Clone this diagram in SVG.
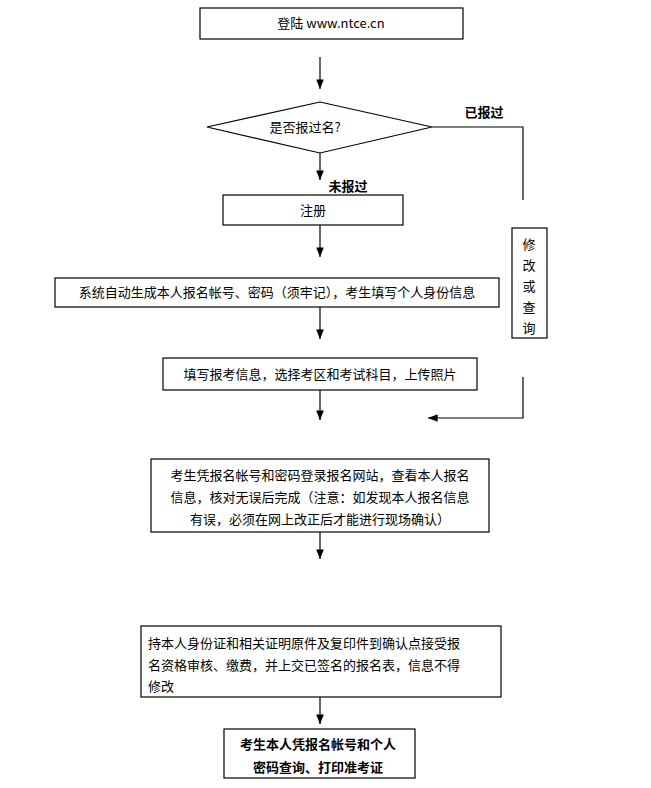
<svg xmlns="http://www.w3.org/2000/svg" width="651" height="788" viewBox="0 0 651 788">
<style>
.b{fill:#fff;stroke:#000;stroke-width:1.2}
.t{font-family:"Noto Sans CJK SC","Liberation Sans",sans-serif;font-size:13px;fill:#000}
.bd{font-weight:bold}
.c{stroke:#000;stroke-width:1.2;fill:none}
</style>
<defs><marker id="a" viewBox="0 0 10 10" refX="10" refY="5" markerWidth="8" markerHeight="8" orient="auto"><path d="M0,1L10,5L0,9z" fill="#000"/></marker></defs>
<rect width="651" height="788" fill="#fff"/>
<g id="connectors">
<path class="c" d="M320,57V89" marker-end="url(#a)"/>
<path class="c" d="M320,153V180" marker-end="url(#a)"/>
<path class="c" d="M432,127H523V200"/>
<path class="c" d="M320,225V257" marker-end="url(#a)"/>
<path class="c" d="M320,307V339" marker-end="url(#a)"/>
<path class="c" d="M320,390V420" marker-end="url(#a)"/>
<path class="c" d="M523,377V418H428" marker-end="url(#a)"/>
<path class="c" d="M320,532V559" marker-end="url(#a)"/>
<path class="c" d="M320,697V724" marker-end="url(#a)"/>
<text class="t bd" x="484" y="117" text-anchor="middle">已报过</text>
<text class="t bd" x="348" y="191" text-anchor="middle">未报过</text>
</g>
<g id="n1"><rect class="b" x="200" y="8" width="263" height="31"/><text class="t" x="331" y="28" text-anchor="middle">登陆 www.ntce.cn</text></g>
<g id="n2"><path class="b" d="M207,127L320,102L432,127L320,153z"/><text class="t" x="305" y="132" text-anchor="middle">是否报过名?</text></g>
<g id="n3"><rect class="b" x="223" y="195" width="180" height="30"/><text class="t" x="313" y="215" text-anchor="middle">注册</text></g>
<g id="n4"><rect class="b" x="512" y="228" width="35" height="110"/><text class="t" x="529" y="249" text-anchor="middle">修</text><text class="t" x="529" y="270" text-anchor="middle">改</text><text class="t" x="529" y="291" text-anchor="middle">或</text><text class="t" x="529" y="312" text-anchor="middle">查</text><text class="t" x="529" y="333" text-anchor="middle">询</text></g>
<g id="n5"><rect class="b" x="55" y="278" width="444" height="29"/><text class="t" x="277" y="297" text-anchor="middle">系统自动生成本人报名帐号、密码（须牢记），考生填写个人身份信息</text></g>
<g id="n6"><rect class="b" x="163" y="358" width="314" height="32"/><text class="t" x="320" y="379" text-anchor="middle">填写报考信息，选择考区和考试科目，上传照片</text></g>
<g id="n7"><rect class="b" x="151" y="459" width="338" height="73"/><text class="t" x="320" y="480" text-anchor="middle">考生凭报名帐号和密码登录报名网站，查看本人报名</text><text class="t" x="320" y="502" text-anchor="middle">信息，核对无误后完成（注意：如发现本人报名信息</text><text class="t" x="320" y="524" text-anchor="middle">有误，必须在网上改正后才能进行现场确认）</text></g>
<g id="n8"><rect class="b" x="141" y="626" width="360" height="71"/><text class="t" x="148" y="648" font-size="14">持本人身份证和相关证明原件及复印件到确认点接受报</text><text class="t" x="148" y="670" font-size="14">名资格审核、缴费，并上交已签名的报名表，信息不得</text><text class="t" x="148" y="691" font-size="14">修改</text></g>
<g id="n9"><rect class="b" x="224" y="729" width="191" height="49"/><text class="t bd" x="318" y="749" text-anchor="middle" font-size="12">考生本人凭报名帐号和个人</text><text class="t bd" x="318" y="772" text-anchor="middle" font-size="12">密码查询、打印准考证</text></g>
</svg>
